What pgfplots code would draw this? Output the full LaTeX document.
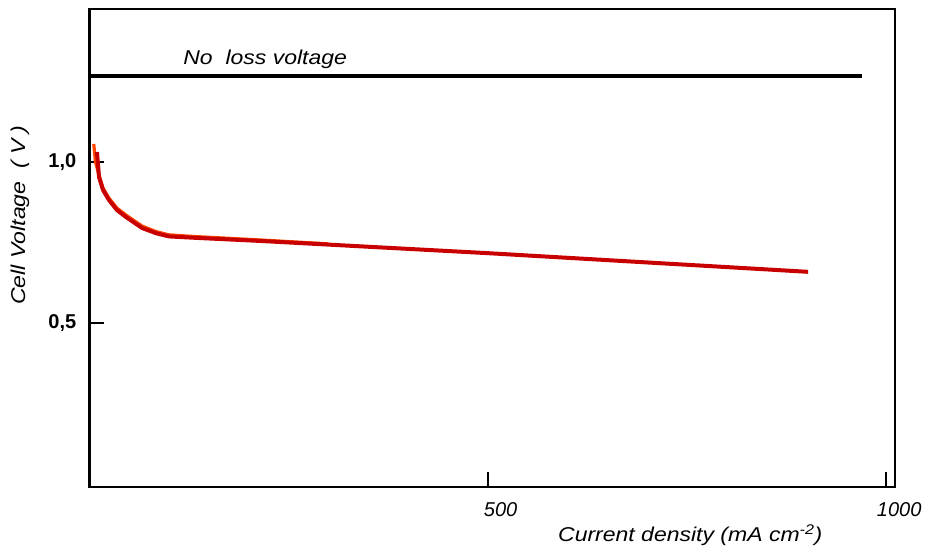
\documentclass[border=0pt]{standalone}
\usepackage{fontspec}
\setmainfont{Liberation Sans}[FakeStretch=1.15]
\newfontfamily\tickfont{Liberation Sans}
\usepackage{pgfplots}
\pgfplotsset{compat=1.18}
\definecolor{darkred}{RGB}{200,0,0}
\definecolor{orangered}{RGB}{255,70,0}
\begin{document}
\begin{tikzpicture}
\begin{axis}[name=ax, at={(0,0)}, anchor=south west,
  scale only axis, width=604.5pt, height=358.5pt,
  xmin=0, xmax=1011, ymin=-0.01, ymax=1.474,
  xtick={500,1000}, xticklabels={500,1000},
  ytick={0.5,1}, yticklabels={{0,5},{1,0}},
  xtick pos=bottom, ytick pos=left,
  xtick align=inside, ytick align=inside,
  major tick length=11pt,
  tick style={line width=1.5pt, black},
  axis line style={line width=1.5pt},
  xticklabel style={font=\fontsize{15}{17}\tickfont\itshape, xshift=9.75pt, yshift=-8pt},
  yticklabel style={font=\fontsize{15}{17}\tickfont\bfseries, xshift=-6pt},
  clip=false]
\addplot[orangered, line width=2.4pt] coordinates {
(6,1.055) (8,1.00) (12.6,0.958) (17.6,0.918) (25,0.887) (35,0.856) (46.5,0.834) (66.6,0.800) (84,0.783) (100,0.773) (130,0.768) (214,0.757) (300,0.745)
};
\addplot[darkred, line width=3pt] coordinates {
(10,1.03) (11.5,0.985) (12.6,0.952) (17.6,0.912) (25,0.881) (35,0.850) (46.5,0.828) (66.6,0.794) (84,0.778) (100,0.768) (130,0.764) (214,0.754) (500,0.716) (902,0.658)
};
\addplot[black, line width=3pt] coordinates {(0,1.267) (969,1.267)};
\node[font=\fontsize{15}{17}\selectfont\itshape] at (axis cs:221,1.319) {No\ \ loss voltage};
\node[font=\fontsize{15}{17}\selectfont\itshape] at ([yshift=-36pt]rel axis cs:0.746,0) {Current density (mA cm\textsuperscript{-2})};
\node[rotate=90, font=\fontsize{15}{17}\selectfont\itshape] at ([xshift=-51.75pt]rel axis cs:0,0.569) {Cell Voltage\ \ ( V )};
\coordinate (sw) at (rel axis cs:0,0);
\coordinate (ne) at (rel axis cs:1,1);
\end{axis}
\draw[line width=2.25pt] (sw) -- (sw|-ne);
\pgfresetboundingbox
\path ([shift={(-66.75pt,-46.5pt)}]sw) rectangle ([shift={(23.25pt,6.75pt)}]ne);
\end{tikzpicture}
\end{document}
